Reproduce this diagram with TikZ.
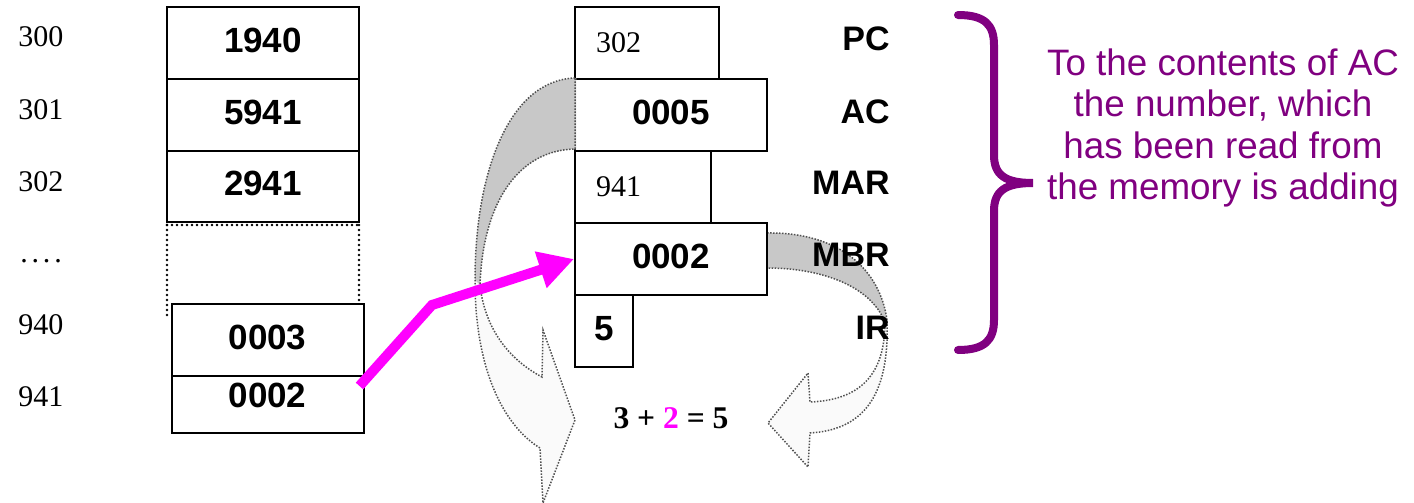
\documentclass[tikz,border=0pt]{standalone}
\usepackage{fontspec}
\setmainfont{Liberation Serif}
\setsansfont{Liberation Sans}
\usetikzlibrary{arrows.meta,calc}
\definecolor{braceviolet}{RGB}{128,0,128}
\definecolor{hotpink}{RGB}{255,0,255}
\definecolor{ribbongray}{RGB}{200,200,200}
\definecolor{ribbonpale}{RGB}{250,250,250}
\definecolor{dotgray}{RGB}{80,80,80}

\begin{document}
\begin{tikzpicture}[x=0.5pt,y=-0.5pt,
  boxline/.style={draw, line width=1pt, inner sep=0pt},
  cell/.style={boxline, minimum width=96pt, minimum height=36pt, text depth=3pt,
    font=\sffamily\bfseries\fontsize{17.5}{20}\selectfont},
  reg/.style={boxline, minimum height=36pt, text depth=3pt,
    font=\sffamily\bfseries\fontsize{17.5}{20}\selectfont},
  regplain/.style={boxline, minimum height=36pt, align=left, inner xsep=10.5pt,
    font=\fontsize{15}{18}\selectfont},
  addr/.style={anchor=west, inner sep=0pt, font=\fontsize{15}{18}\selectfont},
  regname/.style={anchor=east, inner sep=0pt, font=\sffamily\bfseries\fontsize{17}{20}\selectfont},
  dotline/.style={line width=1.4pt, line cap=round, dash pattern=on 0pt off 2.5pt},
  ribbonedge/.style={dotgray, line width=0.75pt, dash pattern=on 0.75pt off 0.75pt},
]
\useasboundingbox (0,0) rectangle (1414,503);

% ---- right ribbon (MBR -> IR), drawn behind the registers
\fill[ribbonpale] (767,233) .. controls (840,232) and (880,270) .. (887,320)
  .. controls (890,400) and (860,430) .. (810,433) -- (808,467) -- (768,423)
  -- (808,373) -- (810,402) .. controls (860,400) and (885,375) .. (885,322)
  .. controls (870,285) and (820,268) .. (767,268) -- cycle;
\fill[ribbongray] (767,233) .. controls (840,232) and (880,270) .. (887,320)
  -- (885,322) .. controls (870,285) and (820,268) .. (767,268) -- cycle;
\draw[ribbonedge] (767,233) .. controls (840,232) and (880,270) .. (887,320)
  .. controls (890,400) and (860,430) .. (810,433) -- (808,467) -- (768,423)
  -- (808,373) -- (810,402) .. controls (860,400) and (885,375) .. (885,322)
  .. controls (870,285) and (820,268) .. (767,268);

% ---- memory cells
\node[cell] (m300) at (263,43) {1940};
\node[cell] (m301) at (263,115) {5941};
\node[cell, minimum height=35.5pt] (m302) at (263,186.5) {2941};
\node[cell] (m940) at (267.5,340) {0003};
\node[cell, minimum height=28.5pt, text depth=9.5pt] (m941) at (267.5,404.5) {0002};
\draw[dotline] (167,225) -- (359,225);
\draw[dotline] (167,225) -- (167,318);
\draw[dotline] (359,225) -- (359,300);

% ---- addresses
\node[addr] (a300) at (18,37) {300};
\node[addr] (a301) at (18,110) {301};
\node[addr] (a302) at (18,182) {302};
\node[addr, anchor=base west] (agap) at (20,262)
  {.\hspace{1.9pt}.\hspace{1.9pt}.\hspace{1.9pt}.};
\node[addr] (a940) at (18,325) {940};
\node[addr] (a941) at (18,397) {941};

% ---- registers
\node[regplain, text width=51pt] (pc) at (647,43) {302};
\node[reg, minimum width=96pt] (ac) at (671,115) {0005};
\node[regplain, text width=47pt] (mar) at (643,187) {941};
\node[reg, minimum width=96pt] (mbr) at (671,259) {0002};
\node[reg, minimum width=29pt] (ir) at (604,331) {5};

\node[regname] (lpc) at (890,39) {PC};
\node[regname] (lac) at (890,112) {AC};
\node[regname] (lmar) at (890,183) {MAR};
\node[regname] (lmbr) at (890,255) {MBR};
\node[regname] (lir) at (890,327.5) {IR};

% ---- left ribbon (AC -> down), laid over the AC border
\fill[ribbonpale] (576,78) .. controls (510,80) and (475,170) .. (475,280)
  .. controls (475,380) and (510,430) .. (540,448) -- (543,503) -- (575,420)
  -- (543,330) -- (542,377) .. controls (510,360) and (485,330) .. (480,285)
  .. controls (483,200) and (520,150) .. (576,149) -- cycle;
\fill[ribbongray] (576,78) .. controls (510,80) and (475,170) .. (475,280)
  -- (480,285) .. controls (483,200) and (520,150) .. (576,149) -- cycle;
\draw[ribbonedge] (575,78) .. controls (510,80) and (475,170) .. (475,280)
  .. controls (475,380) and (510,430) .. (540,448) -- (543,503) -- (575,420)
  -- (543,330) -- (542,377) .. controls (510,360) and (485,330) .. (480,285)
  .. controls (483,200) and (520,150) .. (575,149) -- cycle;

% ---- equation
\node[inner sep=0pt, font=\bfseries\fontsize{15.8}{18}\selectfont] (eq) at (671,418)
  {3 + \textcolor{hotpink}{2} = 5};

% ---- transfer from memory cell 941 into MBR
\coordinate (bend) at (432,305);
\draw[hotpink, line width=5pt, miter limit=4,
  -{Triangle[length=17.5pt,width=18pt]}]
  ($(m941.north east)+(-5,11)$) -- (bend) -- (mbr.west);

% ---- brace and explanation
\draw[braceviolet, line width=4pt, line cap=round]
  (958,15) .. controls (985,15) and (994,25) .. (994,45) -- (994,155)
  .. controls (994,175) and (1005,183) .. (1033,183)
  .. controls (1005,183) and (994,191) .. (994,211) -- (994,320)
  .. controls (994,340) and (985,350) .. (958,350);
\node[braceviolet, anchor=north, inner sep=0pt, align=center,
  font=\sffamily\fontsize{18.4}{20.8}\selectfont] (note) at (1223,48)
  {To the contents of AC\\the number, which\\has been read from\\the memory is adding};
\end{tikzpicture}
\end{document}
